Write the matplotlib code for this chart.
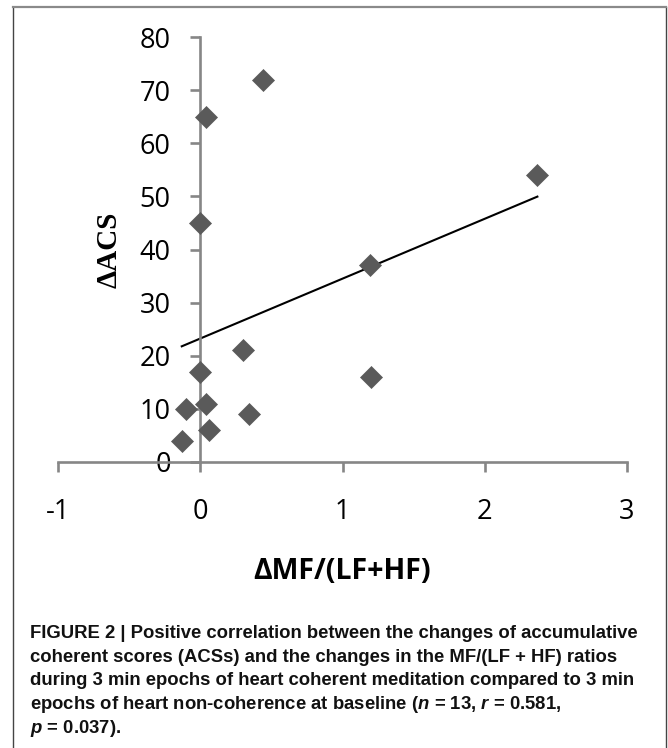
import matplotlib
matplotlib.use("Agg")
import matplotlib.pyplot as plt
from matplotlib.lines import Line2D
import numpy as np

# ---- data ----
mf_ratio_change = [0.44, 0.04, 0.00, 2.37, 1.19, 1.20, 0.30, 0.00, -0.10, 0.04, 0.345, 0.06, -0.13]
acs_change = [72, 65, 45, 54, 37, 16, 21, 17, 10, 11, 9, 6, 4]
x_ticks = [-1, 0, 1, 2, 3]
y_ticks = [0, 10, 20, 30, 40, 50, 60, 70, 80]
x_label = "ΔMF/(LF+HF)"
y_label = "ΔACS"

plt.rcParams['axes.unicode_minus'] = False
plt.rcParams['mathtext.fontset'] = 'custom'
plt.rcParams['mathtext.rm'] = 'Liberation Sans:bold'
plt.rcParams['mathtext.it'] = 'Liberation Sans:italic:bold'
has_bfit = 'mathtext.bfit' in plt.rcParams
if has_bfit:
    plt.rcParams['mathtext.bfit'] = 'Liberation Sans:italic:bold'
itcmd = r'\mathbfit' if has_bfit else r'\mathit'

W, H = 668, 748
fig = plt.figure(figsize=(W / 100, H / 100), dpi=100)
fig.patch.set_facecolor('white')

# axes: x -1..3 spans px 58..627, y 0..80 spans px 462..37
ax = fig.add_axes([58 / W, 1 - 462 / H, (627 - 58) / W, (462 - 37) / H])
ax.set_facecolor('none')
ax.set_xlim(-1, 3)
ax.set_ylim(0, 80)

axis_col = '#868686'
for s in ['top', 'right']:
    ax.spines[s].set_visible(False)
ax.spines['left'].set_position(('data', 0))
ax.spines['bottom'].set_position(('data', 0))
for s in ['left', 'bottom']:
    ax.spines[s].set_color(axis_col)
    ax.spines[s].set_linewidth(1.9)

ax.set_xticks(x_ticks)
ax.set_yticks(y_ticks)
ax.set_xticklabels([str(v) for v in x_ticks])
ax.set_yticklabels([str(v) for v in y_ticks])
ax.tick_params(axis='both', direction='out', length=7.2, width=1.9, color=axis_col,
               labelsize=19.5, labelcolor='black')
ax.tick_params(axis='x', pad=19)
ax.tick_params(axis='y', pad=14)
for lab in ax.get_xticklabels() + ax.get_yticklabels():
    lab.set_fontfamily(['Open Sans', 'DejaVu Sans'])

# trend line over the data range
coef = np.polyfit(mf_ratio_change, acs_change, 1)
xs = np.array([min(mf_ratio_change), max(mf_ratio_change)])
ax.plot(xs, np.polyval(coef, xs), color='black', lw=1.5, zorder=2, clip_on=False)

ax.plot(mf_ratio_change, acs_change, linestyle='none', marker='D', markersize=11.2,
        markerfacecolor='#5a5a5a', markeredgecolor='#5a5a5a', markeredgewidth=0.5,
        zorder=3, clip_on=False)

ax.set_xlabel(x_label, fontsize=20.5, fontweight='bold', family=['Open Sans', 'DejaVu Sans'],
              labelpad=22)
ax.set_ylabel(y_label, fontsize=21, fontweight='bold', family=['Liberation Serif', 'DejaVu Serif'],
              labelpad=12.5)

# figure frame lines
fx = lambda px: px / W
fy = lambda py: 1 - py / H
fig.add_artist(Line2D([fx(13), fx(13)], [fy(7), 0], transform=fig.transFigure, color='#444444', lw=1.0))
fig.add_artist(Line2D([fx(665.5), fx(665.5)], [fy(7), 0], transform=fig.transFigure, color='#444444', lw=1.0))
fig.add_artist(Line2D([fx(13), fx(665.5)], [fy(7), fy(7)], transform=fig.transFigure, color='#8a8a8a', lw=1.6))

# caption
cap_lines = [
    "FIGURE 2 | Positive correlation between the changes of accumulative",
    "coherent scores (ACSs) and the changes in the MF/(LF + HF) ratios",
    "during 3 min epochs of heart coherent meditation compared to 3 min",
    "epochs of heart non-coherence at baseline ($" + itcmd + "{n}$ = 13, $" + itcmd + "{r}$ = 0.581,",
    "$" + itcmd + "{p}$ = 0.037).",
]
base0 = 638
step = 23.7
for i, line in enumerate(cap_lines):
    fig.text(fx(30.5), fy(base0 + i * step), line, fontsize=13.3, fontweight='bold',
             family=['Liberation Sans', 'DejaVu Sans'], color='#111111', va='baseline', ha='left')

fig.savefig('out.png', dpi=100, facecolor='white')
